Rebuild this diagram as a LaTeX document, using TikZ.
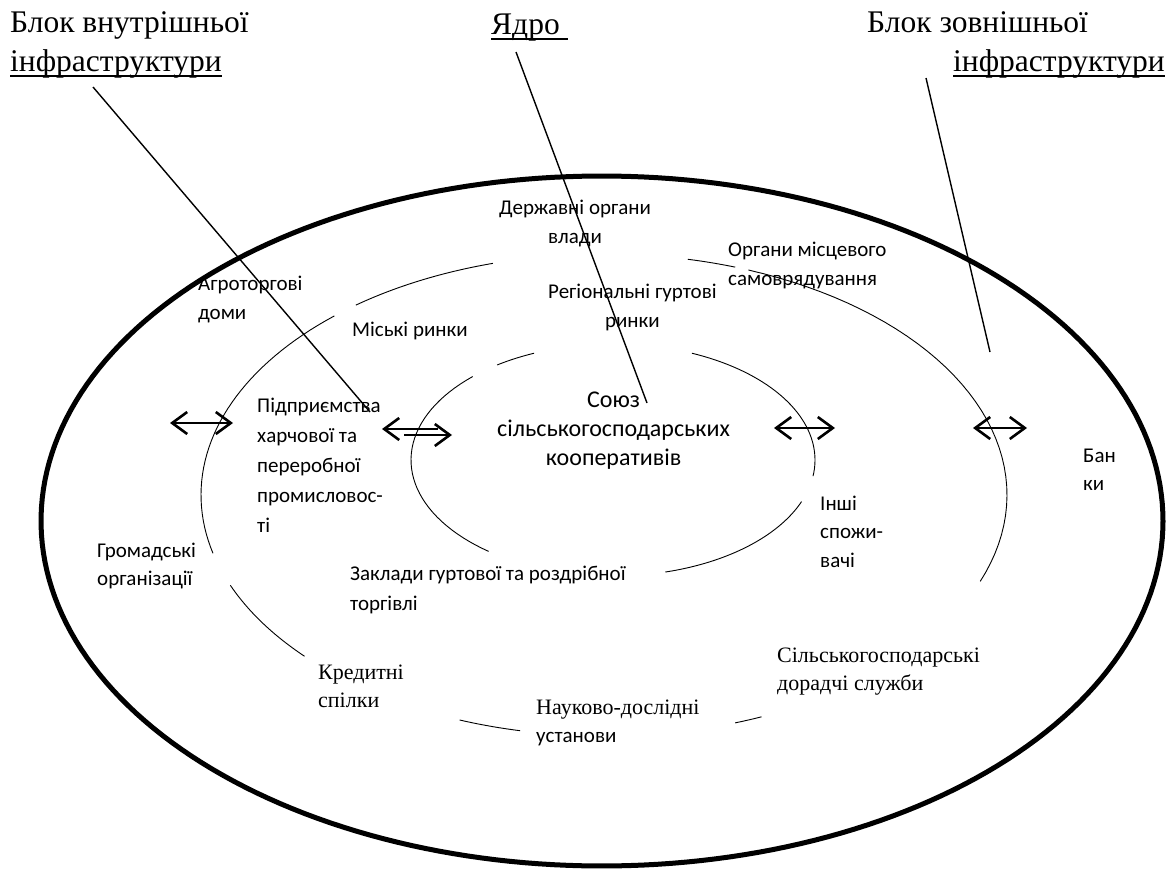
\documentclass[tikz,border=0pt]{standalone}
\usepackage{fontspec}
\setmainfont{Liberation Serif}
\newfontfamily\calfont{Carlito}
\usetikzlibrary{arrows.meta}
\begin{document}
\begin{tikzpicture}[x=1pt,y=-1pt,
  cal/.style={font=\calfont\fontsize{21}{29}\selectfont, inner sep=0pt, anchor=base west, align=left},
  calc/.style={cal, align=center},
  big/.style={font=\calfont\fontsize{24}{29}\selectfont, inner sep=0pt, anchor=base west, align=center},
  tms/.style={font=\fontsize{22}{28}\selectfont, inner sep=0pt, anchor=base west, align=left},
  hd/.style={font=\fontsize{31.5}{39}\selectfont, inner sep=0pt, anchor=base west},
  ul/.style={line width=1.5pt},
  thinline/.style={line width=0.9pt},
  outerline/.style={line width=5pt},
  lead/.style={line width=1.4pt},
  arr/.style={line width=2.6pt, >={Straight Barb[length=15pt,width=22pt]}}
]
\useasboundingbox (0,0) rectangle (1175,872);

% outer ellipse
\draw[outerline] plot[domain=0:360, samples=240, variable=\t] ({602+561*cos(\t)},{521-345*sin(\t)}) -- cycle;

% middle ellipse (broken)
\foreach \a/\b in {106/128, 132/194, 202/222, 249/258, 289/293, -21/69, 71/78}
  \draw[thinline] plot[domain=\a:\b, samples=40, variable=\t] ({604+403*cos(\t)},{495-241*sin(\t)});

% inner ellipse (broken)
\foreach \a/\b in {113/125, 134/232, -75/-21, -8/67}
  \draw[thinline] plot[domain=\a:\b, samples=40, variable=\t] ({613+202*cos(\t)},{460-116*sin(\t)});

% headings
\node[hd] (hL1) at (10,33) {Блок внутрішньої};
\node[hd] (hL2) at (10,72) {інфраструктури};
\node[hd] (hC) at (491,35) {Ядро};
\node[hd] (hR1) at (867,33) {Блок зовнішньої};
\node[hd] (hR2) at (953,72) {інфраструктури};
\draw[ul] ([yshift=-4pt]hL2.base west) -- ([yshift=-4pt]hL2.base east);
\draw[ul] ([yshift=-4pt]hC.base west) -- ([yshift=-4pt,xshift=8pt]hC.base east);
\draw[ul] ([yshift=-4pt]hR2.base west) -- ([yshift=-4pt]hR2.base east);

% labels (anchored at the baseline of the last line)
\node[calc] (derzh) at (499,243) {Державні органи\\влади};
\node[cal] (organy) at (728,285) {Органи місцевого\\самоврядування};
\node[calc] (region) at (548,327) {Регіональні гуртові\\ринки};
\node[cal] (agro) at (198,319) {Агроторгові\\доми};
\node[cal] (miski) at (352,336) {Міські ринки};
\node[cal, font=\calfont\fontsize{21}{30}\selectfont] (pidpr) at (257,532) {Підприємства\\харчової та\\переробної\\промисловос-\\ті};
\node[big] (soyuz) at (497,465) {Союз\\сільськогосподарських\\кооперативів};
\node[cal, font=\calfont\fontsize{21}{28.5}\selectfont] (inshi) at (820,567) {Інші\\спожи-\\вачі};
\node[cal, font=\calfont\fontsize{21}{28}\selectfont] (banky) at (1083,490) {Бан\\ки};
\node[cal, font=\calfont\fontsize{21}{28}\selectfont] (hromad) at (97,585) {Громадські\\організації};
\node[cal, font=\calfont\fontsize{21}{30}\selectfont] (zaklady) at (350,610) {Заклади гуртової та роздрібної\\торгівлі};
\node[tms] (kredyt) at (318,707) {Кредитні\\спілки};
\node[tms] (nauk) at (536,714) {Науково-дослідні};
\node[cal] (naukb) at (536,742) {установи};
\node[tms] (silsk) at (777,690) {Сільськогосподарські\\дорадчі служби};

% leader lines
\coordinate (l1s) at (93,87);  \coordinate (l1e) at (370,412);
\coordinate (l2s) at (516,52); \coordinate (l2e) at (647,403);
\coordinate (l3s) at (926,78); \coordinate (l3e) at (990,352);
\draw[lead] (l1s) -- (l1e);
\draw[lead] (l2s) -- (l2e);
\draw[lead] (l3s) -- (l3e);

% arrows
\coordinate (a1) at (170,423); \coordinate (a1m) at (212,423);
\coordinate (a2m) at (192,423); \coordinate (a2) at (233,423);
\draw[arr,<-] (a1) -- (a1m);
\draw[arr,->] (a2m) -- (a2);
\coordinate (b1) at (382,429); \coordinate (b1m) at (438,429);
\coordinate (b2m) at (404,435); \coordinate (b2) at (452,435);
\draw[arr,<-] (b1) -- (b1m);
\draw[arr,->] (b2m) -- (b2);
\coordinate (c1) at (774,428); \coordinate (c2) at (835,428);
\draw[arr,<->] (c1) -- (c2);
\coordinate (d1) at (973,428); \coordinate (d2) at (1027,428);
\draw[arr,<->] (d1) -- (d2);
\end{tikzpicture}
\end{document}
